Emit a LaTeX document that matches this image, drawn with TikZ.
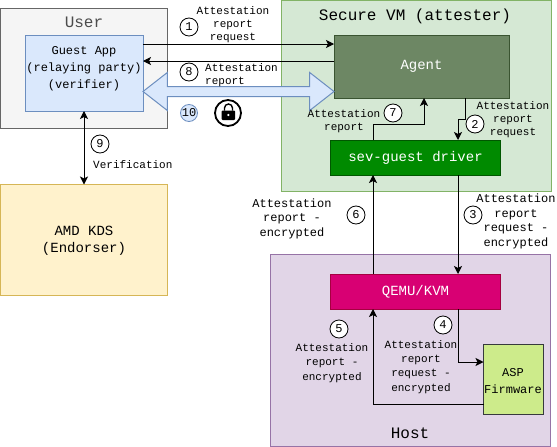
\documentclass[tikz,border=0pt]{standalone}
\usepackage{fontspec}
\setmainfont{Liberation Mono}
\usetikzlibrary{arrows.meta,shapes.arrows}
\definecolor{BB}{HTML}{DAE8FC}
\definecolor{BD}{HTML}{6C8EBF}
\definecolor{GB}{HTML}{D5E8D4}
\definecolor{GD}{HTML}{82B366}
\definecolor{PB}{HTML}{E1D5E7}
\definecolor{PD}{HTML}{9673A6}
\definecolor{YB}{HTML}{FFF2CC}
\definecolor{YD}{HTML}{D6B656}
\definecolor{AB}{HTML}{6D8764}
\definecolor{AD}{HTML}{3A5431}
\definecolor{DB}{HTML}{008A00}
\definecolor{DD}{HTML}{005700}
\definecolor{QB}{HTML}{D80073}
\definecolor{QD}{HTML}{A50040}
\definecolor{FB}{HTML}{CDEB8B}
\definecolor{FD}{HTML}{36393D}
\tikzset{
  area/.style={draw, anchor=north west, inner sep=0pt, outer sep=0pt, line width=1pt},
  title/.style={font=\fontsize{16}{18}\selectfont, inner sep=0pt},
  block/.style={draw, inner sep=0pt, outer sep=0pt, line width=1pt, align=center, font=\fontsize{14}{17}\selectfont},
  lbl/.style={align=center, inner sep=0pt, font=\fontsize{11}{13}\selectfont},
  lblwide/.style={align=center, inner sep=0pt, font=\fontsize{11}{14.3}\selectfont},
  lblbig/.style={align=center, inner sep=0pt, font=\fontsize{12}{14.5}\selectfont},
  num/.style={draw, circle, fill=white, minimum size=18pt, inner sep=0pt, line width=0.8pt, font=\fontsize{12}{12}\selectfont},
  conn/.style={line width=1pt, -{Stealth[length=8pt,width=8pt,inset=2pt]}},
}
\begin{document}
\begin{tikzpicture}[x=1pt,y=-1pt]
  \useasboundingbox (0,0) rectangle (557,447);
  %# AREAS
  \node[area, fill=black!4, draw=black!60, minimum width=167pt, minimum height=120pt] (user) at (0.5,8) {};
  \node[area, fill=GB, draw=GD, minimum width=270pt, minimum height=191pt] (vm) at (281,0.5) {};
  \node[area, fill=YB, draw=YD, minimum width=167pt, minimum height=111pt] (kds) at (0.5,184.5) {};
  \node[area, fill=PB, draw=PD, minimum width=280pt, minimum height=192pt] (host) at (270.5,254.5) {};
  \node[title, text=black!70] (usertitle) at (84,22.5) {User};
  \node[title] (vmtitle) at (415,16) {Secure VM (attester)};
  \node[title] (hosttitle) at (410,433.5) {Host};

  %# BLOCKS
  \node[block, fill=BB, draw=BD, minimum width=118pt, minimum height=76pt] (guest) at (84,73) {};
  \node[inner sep=0pt, align=center, font=\fontsize{12}{17}\selectfont] (guesttext) at (84,69) {Guest App\\(relaying party)\\(verifier)};
  \node[inner sep=0pt, align=center, font=\fontsize{14}{17}\selectfont] (kdstext) at (84,241) {AMD KDS\\(Endorser)};
  \node[block, fill=AB, draw=AD, text=white, minimum width=175pt, minimum height=63pt] (agent) at (421.5,66.5) {\raisebox{-1pt}{Agent}};
  \node[block, fill=DB, draw=DD, text=white, minimum width=170pt, minimum height=35pt] (driver) at (415.5,157.5) {sev-guest driver};
  \node[block, fill=QB, draw=QD, text=white, minimum width=170pt, minimum height=35pt] (qemu) at (415.5,291.5) {QEMU/KVM};
  \node[block, fill=FB, draw=FD, minimum width=60pt, minimum height=70pt] (asp) at (513.5,379.5) {};
  \node[inner sep=0pt, align=center, font=\fontsize{12}{17}\selectfont] (asptext) at (513,381) {ASP\\Firmware};

  %# CONNECTORS
  \draw[conn] ([yshift=29pt]guest.east) -- ([yshift=22.5pt]agent.west);
  \draw[conn] ([yshift=5.5pt]agent.west) -- ([yshift=12pt]guest.east);
  \draw[line width=1pt, {Stealth[length=8pt,width=8pt,inset=2pt]}-{Stealth[length=8pt,width=8pt,inset=2pt]}] (guest.south) -- (kds.north -| guest.south);
  \draw[conn] ([xshift=43.5pt]agent.south) -- ++(0,21) -| ([xshift=42.5pt]driver.north);
  \draw[conn] ([xshift=-42.5pt]driver.north) -- ++(0,-15.5) -| ([xshift=2.5pt]agent.south);
  \draw[conn] ([xshift=-42.5pt]qemu.north) -- ([xshift=-42.5pt]driver.south);
  \draw[conn] ([xshift=42.5pt]driver.south) -- ([xshift=42.5pt]qemu.north);
  \draw[conn] ([xshift=42.5pt]qemu.south) |- ([yshift=17.5pt]asp.west);
  \draw[conn] ([yshift=-25pt]asp.west) -| ([xshift=-42.5pt]qemu.south);
  \node[double arrow, draw=BD, fill=BB, line width=1pt, inner xsep=0pt, inner ysep=4.5pt, minimum height=191pt, double arrow head extend=14pt, double arrow tip angle=76, double arrow head indent=0pt] (secure) at (238.5,91.5) {};

  %# NUMBERS
  \node[num] (n1) at (189,27) {1};
  \node[num] (n2) at (475,124) {2};
  \node[num] (n3) at (473,215) {3};
  \node[num] (n4) at (443,325) {4};
  \node[num] (n5) at (339,329) {5};
  \node[num] (n6) at (356,215) {6};
  \node[num] (n7) at (393,113) {7};
  \node[num] (n8) at (189,72) {8};
  \node[num] (n9) at (100,144) {9};
  \node[num, fill=BB, draw=BD, minimum size=17pt] (n10) at (189,113) {10};

  %# LOCK
  \node[draw, circle, fill=white, line width=1.8pt, minimum size=26pt, inner sep=0pt] (lock) at (228,113) {};
  \fill[black, rounded corners=1pt] (221.5,110.5) rectangle (235,120);
  \draw[black, line width=1.4pt] (224.5,110.5) -- (224.5,108) arc[start angle=180, end angle=360, x radius=4pt, y radius=-4pt] -- (232.5,110.5);
  \fill[white] (228.3,115) circle (1.2pt);

  %# LABELS
  \node[lbl] (l1) at (233,25) {Attestation\\report\\request};
  \node[lbl, align=left, anchor=west] (l8) at (205,75) {Attestation\\report};
  \node[lbl] (l7) at (344,121) {Attestation\\report};
  \node[lbl] (l2) at (513,119.5) {Attestation\\report\\request};
  \node[lblbig] (l6) at (292,218.5) {Attestation\\report -\\encrypted};
  \node[lblbig] (l3) at (516,221.5) {Attestation\\report\\request -\\encrypted};
  \node[lblwide] (l5) at (332,363) {Attestation\\report -\\encrypted};
  \node[lblwide] (l4) at (421,367) {Attestation\\report\\request -\\encrypted};
  \node[lbl, anchor=west] (l9) at (93,165) {Verification};
\end{tikzpicture}
\end{document}
